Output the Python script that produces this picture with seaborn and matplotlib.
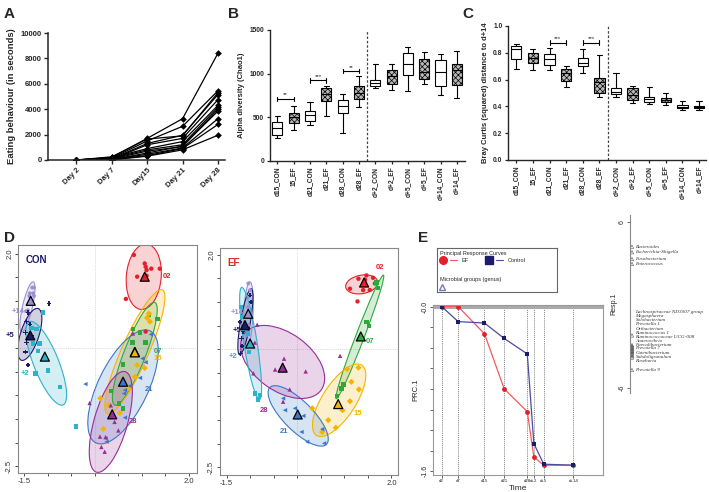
import numpy as np
import pandas as pd
import matplotlib
matplotlib.use('Agg')
import matplotlib.pyplot as plt
from matplotlib.patches import Ellipse
from matplotlib.lines import Line2D
from matplotlib.legend_handler import HandlerTuple
import seaborn as sns

sns.set_style('ticks')
plt.rcParams['font.family'] = ['Liberation Sans', 'DejaVu Sans']
plt.rcParams['hatch.linewidth'] = 0.5

# ---------------- data ----------------
# A: eating behaviour, one row per mouse
days = ['Day 2', 'Day 7', 'Day15', 'Day 21', 'Day 28']
eating = [
    [0, 200, 1700, 3250, 8400],
    [0, 150, 1500, 2650, 5450],
    [0, 250, 1650, 1900, 5300],
    [0, 100, 1300, 1950, 5150],
    [0, 50, 1200, 1700, 4750],
    [0, 180, 900, 1450, 4300],
    [0, 120, 800, 1200, 4150],
    [0, 80, 700, 1050, 4000],
    [0, 30, 550, 1100, 3850],
    [0, 60, 450, 950, 3250],
    [0, 20, 350, 900, 2800],
    [0, 10, 300, 800, 1950],
]

# B / C: five-number summaries (min, q1, median, q3, max)
box_cats = ['d15_CON', '15_EF', 'd21_CON', 'd21_EF', 'd28_CON', 'd28_EF',
            'd+2_CON', 'd+2_EF', 'd+5_CON', 'd+5_EF', 'd+14_CON', 'd+14_EF']
box_grp = ['CON', 'EF'] * 6
chao1 = [
    [269, 300, 377, 450, 519],
    [354, 431, 500, 546, 635],
    [415, 454, 531, 577, 673],
    [512, 692, 769, 838, 858],
    [315, 546, 635, 704, 769],
    [623, 712, 781, 854, 969],
    [835, 858, 896, 923, 1108],
    [808, 877, 973, 1038, 1115],
    [800, 988, 1108, 1231, 1300],
    [877, 942, 1019, 1173, 1250],
    [750, 858, 1019, 1154, 1223],
    [723, 865, 1046, 1108, 1258],
]
bray = [
    [0.679, 0.751, 0.826, 0.851, 0.863],
    [0.672, 0.726, 0.759, 0.796, 0.831],
    [0.672, 0.709, 0.751, 0.789, 0.833],
    [0.547, 0.592, 0.647, 0.677, 0.704],
    [0.652, 0.701, 0.721, 0.759, 0.826],
    [0.468, 0.502, 0.585, 0.609, 0.784],
    [0.468, 0.493, 0.510, 0.535, 0.647],
    [0.423, 0.448, 0.485, 0.535, 0.552],
    [0.415, 0.430, 0.453, 0.468, 0.542],
    [0.410, 0.435, 0.448, 0.460, 0.498],
    [0.373, 0.386, 0.398, 0.410, 0.440],
    [0.373, 0.386, 0.393, 0.405, 0.443],
]
sig_b = [(0, 1, 712, '**'), (2, 3, 923, '***'), (4, 5, 1027, '**')]
sig_c = [(2, 3, 0.876, '***'), (4, 5, 0.876, '***')]

# D: ordination sample scores per time point
groups = ['02', '07', '15', '21', '28', '+14', '+5', '+2']
grp_colors = {'02': '#e3202b', '07': '#2fa83a', '15': '#f4b400', '21': '#3b78c8',
              '28': '#9a2c97', '+14': '#9b90d2', '+5': '#1d1b6b', '+2': '#2bb3c9'}
grp_markers = {'02': 'o', '07': 's', '15': 'D', '21': '<', '28': '^',
               '+14': 'p', '+5': 'P', '+2': 's'}

con_x = {'02': [0.83, 1.06, 1.08, 1.10, 1.20, 1.38, 0.90, 1.10, 0.66, 1.08],
         '07': [1.15, 1.33, 0.81, 0.96, 1.08, 0.80, 0.60, 0.35, 0.52, 0.60],
         '15': [1.15, 1.11, 1.17, 0.90, 1.06, 0.85, 0.72, 0.12, 0.30, 0.18, 0.53],
         '21': [1.19, 1.01, 0.96, 0.74, 0.64, 0.62, 0.64, 0.25, 0.23, -0.20, 1.08],
         '28': [0.81, -0.11, 0.34, 0.50, 0.11, 0.23, 0.14, 0.21, 0.42],
         '+14': [-1.33, -1.29, -1.38, -1.31, -1.39, -1.29, -1.46, -1.42],
         '+5': [-0.97, -1.42, -1.38, -1.45, -1.47, -1.45, -1.47, -1.42, -1.34],
         '+2': [-1.10, -1.24, -1.31, -1.17, -1.20, -1.26, -0.99, -0.74, -0.40, -1.34]}
con_y = {'02': [1.97, 1.79, 1.72, 1.65, 1.68, 1.68, 1.51, 1.53, 1.04, 0.35],
         '07': [0.71, 0.61, 0.40, 0.33, 0.12, 0.12, -0.35, -0.91, -1.17, -1.28],
         '15': [0.73, 0.64, 0.56, -0.36, -0.42, -0.61, -0.84, -1.06, -1.21, -1.71, -1.37],
         '21': [0.29, -0.22, -0.63, -0.80, -0.89, -0.96, -1.47, -1.98, -1.91, -0.76, -0.30],
         '28': [0.31, -1.16, -1.21, -1.74, -1.87, -1.88, -2.09, -2.19, -1.56],
         '+14': [1.28, 1.28, 1.16, 1.16, 1.10, 1.10, 0.78, 0.80],
         '+5': [0.94, 0.75, 0.50, 0.56, 0.33, 0.12, -0.08, -0.36, 0.27],
         '+2': [0.75, 0.40, 0.10, 0.10, -0.06, -0.54, -0.47, -0.82, -1.66, 0.42]}
con_cen = {'02': (1.06, 1.51), '07': (0.85, -0.08), '15': (0.85, -0.09),
           '21': (0.60, -0.71), '28': (0.37, -1.40), '+14': (-1.36, 1.00),
           '+5': (-1.37, 0.27), '+2': (-1.06, -0.18)}
# ellipse: centre x, centre y, major, minor, angle
con_ell = {'02': (1.04, 1.51, 1.39, 0.74, 85), '07': (0.85, -0.12, 2.33, 0.46, 68.6),
           '15': (0.85, -0.08, 2.87, 0.57, 66), '21': (0.60, -0.82, 2.63, 1.06, 64),
           '28': (0.34, -1.56, 2.21, 0.71, 74), '+14': (-1.43, 0.87, 1.09, 0.21, 77),
           '+5': (-1.38, 0.29, 1.15, 0.39, 72), '+2': (-1.03, -0.32, 1.90, 0.53, -68)}
con_lab = {'02': (1.53, 1.52), '07': (1.34, -0.08), '15': (1.34, -0.21),
           '21': (1.15, -0.87), '28': (0.81, -1.56), '+14': (-1.63, 0.78),
           '+5': (-1.80, 0.27), '+2': (-1.47, -0.53)}

ef_x = {'02': [1.12, 1.30, 1.44, 1.61, 1.65, 1.54, 1.40, 1.28, 1.47],
        '07': [1.68, 1.71, 1.47, 1.52, 0.98, 0.94, 0.84],
        '15': [1.06, 1.30, 1.31, 1.12, 0.96, 0.66, 0.82, 0.53, 0.32, 1.15],
        '21': [-0.26, -0.05, 0.13, 0.09, 0.21, 0.53, 0.57, -0.30],
        '28': [-0.85, -0.90, -0.28, -0.47, 0.18, -0.16, -0.30, 0.91, -0.93],
        '+14': [-1.04, -1.00, -1.03, -1.05, -1.00, -1.04, -1.07],
        '+5': [-1.22, -1.18, -1.17, -1.20, -1.00, -0.98, -1.11, -1.15],
        '+2': [-1.20, -1.17, -1.13, -1.05, -0.90, -0.79, -0.83, -1.03]}
ef_y = {'02': [1.28, 1.49, 1.47, 1.51, 1.39, 1.25, 1.25, 1.01, 1.56],
        '07': [1.41, 1.30, 0.58, 0.49, -0.75, -0.83, -0.99],
        '15': [-0.42, -0.39, -0.85, -1.10, -1.29, -1.50, -1.66, -1.75, -1.25, -0.69],
        '21': [-1.29, -1.25, -1.41, -1.75, -1.96, -1.69, -1.99, -1.04],
        '28': [0.52, 0.14, -0.20, -0.43, -0.47, -0.85, -1.11, -0.14, -0.51],
        '+14': [1.39, 1.25, 1.11, 0.89, 0.75, 0.51, 0.30],
        '+5': [0.58, 0.23, 0.07, -0.09, 1.14, 1.00, 0.51, 0.37],
        '+2': [0.89, 0.68, 0.44, 0.33, -0.94, -0.97, -1.06, -0.06]}
ef_cen = {'02': (1.42, 1.41), '07': (1.35, 0.27), '15': (0.87, -1.16),
          '21': (0.01, -1.38), '28': (-0.31, -0.39), '+14': (-1.04, 0.75),
          '+5': (-1.11, 0.51), '+2': (-1.00, 0.12)}
ef_ell = {'02': (1.37, 1.37, 0.69, 0.39, 10), '07': (1.33, 0.26, 2.80, 0.18, 69),
          '15': (0.89, -1.08, 1.77, 0.71, 57), '21': (0.02, -1.41, 1.70, 0.62, -45),
          '28': (-0.31, -0.27, 2.02, 1.22, -36), '+14': (-1.04, 0.72, 1.41, 0.20, 87),
          '+5': (-1.10, 0.58, 1.42, 0.21, 80), '+2': (-0.99, 0.12, 2.40, 0.28, -81)}
ef_lab = {'02': (1.76, 1.72), '07': (1.54, 0.17), '15': (1.28, -1.35),
          '21': (-0.28, -1.75), '28': (-0.70, -1.29), '+14': (-1.28, 0.78),
          '+5': (-1.28, 0.40), '+2': (-1.37, -0.15)}

# E: principal response curves
prc_times = [2, 7, 15, 21, 28, 30, 33, 42]
prc_labels = ['d2', 'd7', 'd15', 'd21', 'd28', 'd+2', 'd+5', 'd+14']
prc_ef = [0.0, 0.0, -0.265, -0.80, -1.02, -1.46, -1.54, -1.54]
prc_con = [0.0, -0.146, -0.16, -0.31, -0.46, -1.33, -1.53, -1.54]

genera = ['Bacteroides', 'Escherichia-Shigella', 'Fusobacterium', 'Enterococcus',
          'Lachnospiraceae ND3007 group', 'Megasphaera', 'Solobacterium',
          'Prevotella 1', 'Oribacterium', 'Ruminococcus 1',
          'Ruminococcaceae UCG-008', 'Anaerovibrio', 'Faecalibacterium',
          'Prevotella 7', 'Catenibacterium', 'Subdoligranulum', 'Roseburia',
          'Prevotella 9']
genus_score = [4.21, 3.81, 3.32, 2.96, -3.0, -3.2, -3.4, -3.1, -3.3, -3.5,
               -2.2, -3.6, -3.0, -3.7, -2.9, -3.8, -3.3, -4.7]
genus_label_y = [4.21, 3.81, 3.32, 2.96, -0.49, -0.78, -1.11, -1.40, -1.72,
                 -2.00, -2.29, -2.60, -2.89, -3.13, -3.47, -3.78, -4.07, -4.72]

# ---------------- figure ----------------
W, H = 709, 492
fig = plt.figure(figsize=(W / 100, H / 100), dpi=100)


def rect(l, t, r, b):
    return [l / W, 1 - b / H, (r - l) / W, (b - t) / H]


def bold_ticks(ax):
    for t in ax.get_xticklabels() + ax.get_yticklabels():
        t.set_fontweight('bold')


for lab, (px, py) in zip('ABCDE', [(4, 14), (228, 14), (462, 14), (4, 238), (418, 238)]):
    fig.text(px / W, 1 - py / H, lab, fontsize=11, fontweight='bold', va='center')

# ---- A ----
dfA = pd.DataFrame(eating, columns=days)
dfA['mouse'] = range(len(dfA))
dfA = dfA.melt(id_vars='mouse', var_name='day', value_name='secs')
axA = fig.add_axes(rect(48, 33, 225, 160))
sns.lineplot(data=dfA, x='day', y='secs', units='mouse', estimator=None,
             color='black', lw=0.9, marker='D', markersize=3.4, markeredgewidth=0, ax=axA)
axA.set_xlim(-0.8, 4.2)
axA.set_ylim(0, 10000)
axA.set_yticks([0, 2000, 4000, 6000, 8000, 10000])
axA.set_xlabel('')
axA.set_ylabel('Eating behaviour (in seconds)', fontsize=6.8, fontweight='bold', labelpad=3)
axA.tick_params(labelsize=5.5, width=1, length=3, pad=1.5)
plt.setp(axA.get_xticklabels(), rotation=45, ha='right', rotation_mode='anchor')
sns.despine(ax=axA)
for s in axA.spines.values():
    s.set_linewidth(1.1)
bold_ticks(axA)


# ---- B & C ----
def box_panel(pos, vals, ylim, yticks, ylabel, sigs, bh):
    df = pd.DataFrame({'cat': np.repeat(box_cats, 5),
                       'grp': np.repeat(box_grp, 5),
                       'val': np.ravel(vals)})
    ax = fig.add_axes(pos)
    sns.boxplot(data=df, x='cat', y='val', hue='grp', dodge=False, whis=(0, 100),
                palette={'CON': 'white', 'EF': '#b8b8b8'}, width=0.62,
                linecolor='black', linewidth=0.8, legend=False, ax=ax)
    for p in ax.patches:
        if p.get_facecolor()[0] < 0.95:
            p.set_hatch('xxxxxx')
    ax.axvline(5.5, color='#444444', lw=0.9, ls=(0, (2, 1.5)))
    for i, j, y, s in sigs:
        ax.plot([i, j], [y, y], color='black', lw=0.8)
        ax.plot([i, i], [y - bh, y + bh], color='black', lw=0.8)
        ax.plot([j, j], [y - bh, y + bh], color='black', lw=0.8)
        ax.text((i + j) / 2, y + bh * 0.6, s, ha='center', va='bottom', fontsize=4.5)
    ax.set_ylim(*ylim)
    ax.set_yticks(yticks)
    ax.set_xlabel('')
    ax.set_ylabel(ylabel, fontsize=5.5, fontweight='bold', labelpad=3)
    ax.tick_params(labelsize=4.8, width=0.9, length=2.5, pad=1.5)
    plt.setp(ax.get_xticklabels(), rotation=90)
    sns.despine(ax=ax)
    for s in ax.spines.values():
        s.set_linewidth(1)
    bold_ticks(ax)
    return ax


axB = box_panel(rect(270, 30, 465, 161), chao1, (0, 1500), [0, 500, 1000, 1500],
                'Alpha diversity (Chao1)', sig_b, 25)
axB.set_xlim(-0.45, 11.5)
axC = box_panel(rect(508, 26, 706, 160), bray, (0, 1.0), [0, 0.2, 0.4, 0.6, 0.8, 1.0],
                'Bray Curtis (squared) distance to d+14', sig_c, 0.018)
axC.set_xlim(-0.5, 11.42)
axC.set_yticklabels(['0.0', '0.2', '0.4', '0.6', '0.8', '1.0'])
bold_ticks(axC)


# ---- D ----
def ord_panel(pos, xs, ys, cen, ell, lab, title, tcolor, xlim, ylim):
    ax = fig.add_axes(pos)
    for g in groups:
        cx, cy, w, h, a = ell[g]
        c = grp_colors[g]
        ax.add_patch(Ellipse((cx, cy), w, h, angle=a, facecolor=c, alpha=0.2,
                             edgecolor='none', zorder=1))
        ax.add_patch(Ellipse((cx, cy), w, h, angle=a, facecolor='none',
                             edgecolor=c, lw=0.8, zorder=2))
    df = pd.DataFrame({'x': sum([xs[g] for g in groups], []),
                       'y': sum([ys[g] for g in groups], []),
                       'g': sum([[g] * len(xs[g]) for g in groups], [])})
    sns.scatterplot(data=df, x='x', y='y', hue='g', style='g', palette=grp_colors,
                    markers=grp_markers, s=10, linewidth=0, legend=False, zorder=3, ax=ax)
    dc = pd.DataFrame({'x': [cen[g][0] for g in groups], 'y': [cen[g][1] for g in groups],
                       'g': groups})
    sns.scatterplot(data=dc, x='x', y='y', hue='g', palette=grp_colors, marker='^',
                    s=42, edgecolor='black', linewidth=0.9, legend=False, zorder=4, ax=ax)
    for g in groups:
        ax.text(lab[g][0], lab[g][1], g, color=grp_colors[g], fontsize=5.5,
                fontweight='bold', ha='center', va='center', clip_on=False)
    ax.axhline(0, color='#bbbbbb', lw=0.5, ls=':', zorder=0)
    ax.axvline(0, color='#bbbbbb', lw=0.5, ls=':', zorder=0)
    ax.set_xlim(*xlim)
    ax.set_ylim(*ylim)
    ax.set_xticks(np.linspace(-1.5, 2.0, 8))
    ax.set_xticklabels(['-1.5', '', '', '', '', '', '', '2.0'])
    ax.set_yticks(np.linspace(-2.5, 2.0, 10))
    ax.set_yticklabels(['-2.5'] + [''] * 8 + ['2.0'], rotation=90, va='center')
    ax.tick_params(labelsize=5.5, length=2, width=0.6, pad=1.5, colors='#333333')
    ax.set_xlabel('')
    ax.set_ylabel('')
    for s in ax.spines.values():
        s.set_color('#888888')
        s.set_linewidth(0.8)
    ax.text(0.04, 0.955, title, transform=ax.transAxes, color=tcolor, fontsize=7,
            fontweight='bold', va='top')
    return ax


ord_panel(rect(18, 245, 197, 473), con_x, con_y, con_cen, con_ell, con_lab,
          'CON', '#1d1b6b', (-1.63, 2.17), (-2.64, 2.18))
ord_panel(rect(220, 248, 398, 475), ef_x, ef_y, ef_cen, ef_ell, ef_lab,
          'EF', '#e3202b', (-1.64, 2.14), (-2.66, 2.14))

# ---- E: PRC ----
dfE = pd.DataFrame({'t': prc_times * 2, 'prc': prc_ef + prc_con,
                    'trt': ['EF'] * len(prc_times) + ['Control'] * len(prc_times)})
axE = fig.add_axes(rect(433, 305, 603, 475))
for t in prc_times:
    axE.axvline(t, color='#555555', lw=0.5, ls=(0, (1.5, 1.5)), zorder=0)
axE.axhline(0, color='#aaaaaa', lw=2.2, zorder=0)
sns.lineplot(data=dfE, x='t', y='prc', hue='trt', style='trt',
             palette={'EF': '#f25a5a', 'Control': '#4b4b9c'},
             markers={'EF': 'o', 'Control': 's'}, dashes=False, markersize=3.5,
             markeredgewidth=0, lw=0.9, legend=False, ax=axE)
mk_col = {'EF': '#e3202b', 'Control': '#1d1b6b'}
for line, trt in zip(axE.lines[-2:], ['EF', 'Control']):
    line.set_markerfacecolor(mk_col[trt])
axE.set_xlim(-0.64, 51)
axE.set_ylim(-1.635, 0.015)
axE.set_xticks(prc_times)
axE.set_xticklabels(prc_labels)
axE.set_yticks(np.round(np.arange(0, -1.61, -0.2), 1))
axE.set_yticklabels(['-0.0'] + [''] * 7 + ['-1.6'], rotation=90, va='center')
axE.tick_params(axis='x', labelsize=3.2, length=2, width=0.5, pad=1)
axE.tick_params(axis='y', labelsize=5, length=2, width=0.5, pad=1)
axE.set_xlabel('Time', fontsize=6, labelpad=1)
axE.set_ylabel('PRC.1', fontsize=5.5, labelpad=2)
for s in axE.spines.values():
    s.set_color('#999999')
    s.set_linewidth(0.8)

# legend box
axL = fig.add_axes(rect(437, 248, 557, 292))
axL.set_xticks([])
axL.set_yticks([])
for s in axL.spines.values():
    s.set_color('#666666')
    s.set_linewidth(0.8)
h_ef = (Line2D([], [], ls='', marker='o', color='#e3202b', ms=5.5),
        Line2D([], [], color='#f25a5a', lw=0.8))
h_con = (Line2D([], [], ls='', marker='s', color='#1d1b6b', ms=5.5),
         Line2D([], [], color='#4b4b9c', lw=0.8))
leg1 = axL.legend([h_ef, h_con], ['EF', 'Control'], ncol=2, loc='upper left',
                  handler_map={tuple: HandlerTuple(ndivide=None, pad=0.6)},
                  title='Principal Response Curves', title_fontsize=4, fontsize=4,
                  frameon=False, handlelength=3.2, columnspacing=3, borderaxespad=0.15,
                  borderpad=0.3)
leg1._legend_box.align = 'left'
axL.add_artist(leg1)
leg2 = axL.legend([Line2D([], [], ls='', marker='^', mfc='none', mec='#7b78c0', ms=4)],
                  [''], loc='lower left', title='Microbial groups (genus)',
                  title_fontsize=4, fontsize=4, frameon=False, handlelength=1,
                  borderaxespad=0.15, borderpad=0.3)
leg2._legend_box.align = 'left'

# species scores
axS = fig.add_axes(rect(630, 215, 709, 393))
dfS = pd.DataFrame({'x': [0.025] * len(genera), 'y': genus_score})
sns.scatterplot(data=dfS, x='x', y='y', marker='^', s=6, facecolor='none',
                edgecolor='#555555', linewidth=0.4, ax=axS)
for name, ly in zip(genera, genus_label_y):
    axS.text(0.07, ly, name, fontsize=3.7, family='Liberation Serif', style='italic',
             va='center', color='#333333', clip_on=False)
axS.set_xlim(0, 1)
axS.set_ylim(-6.36, 6.5)
axS.set_yticks([-6, 6])
axS.set_yticklabels(['-6', '6'], rotation=90, va='center')
axS.set_xticks([])
axS.set_xlabel('')
axS.set_ylabel('Resp.1', fontsize=5, labelpad=1)
axS.tick_params(axis='y', labelsize=5, length=2, width=0.5, pad=1)
for k in ['top', 'right', 'bottom']:
    axS.spines[k].set_visible(False)
axS.spines['left'].set_color('#888888')
axS.spines['left'].set_linewidth(0.8)

fig.savefig('out.png', dpi=100)
